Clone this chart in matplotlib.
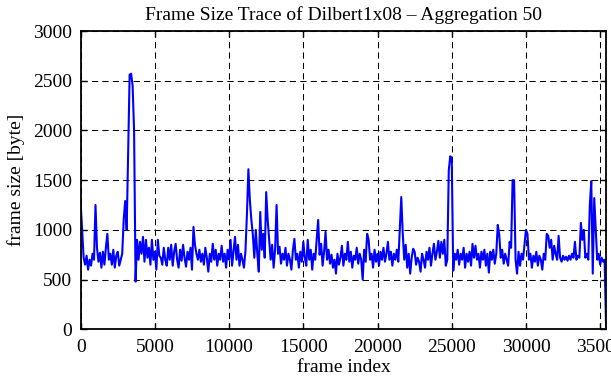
import numpy as np
import matplotlib.pyplot as plt

# Frame size trace (aggregation 50), every 100 frames
frame_step = 100
frame_size = [
    1260, 1000, 720, 650, 740, 600, 700, 640, 760, 700,
    1250, 820, 680, 770, 620, 780, 650, 820, 960, 700,
    760, 650, 800, 620, 740, 780, 640, 700, 760, 1100,
    1290, 1000, 1760, 2560, 2570, 2450, 2000, 480, 900, 700,
    880, 760, 930, 680, 900, 720, 820, 650, 900, 700,
    780, 600, 900, 740, 720, 650, 820, 700, 640, 820,
    700, 850, 640, 780, 860, 700, 620, 800, 690, 850,
    720, 630, 780, 700, 820, 600, 1030, 850, 760, 700,
    800, 680, 760, 650, 820, 720, 580, 760, 680, 860,
    700, 800, 640, 760, 700, 840, 680, 760, 620, 800,
    700, 900, 640, 780, 930, 700, 850, 640, 760, 700,
    620, 780, 1150, 1610, 1300, 1100, 950, 720, 1000, 760,
    580, 1180, 800, 960, 720, 1380, 1100, 900, 700, 850,
    620, 800, 1250, 760, 830, 660, 760, 700, 820, 640,
    760, 700, 600, 800, 910, 700, 760, 620, 780, 680,
    880, 720, 640, 900, 700, 800, 600, 760, 700, 900,
    1100, 750, 860, 640, 780, 980, 700, 800, 660, 750,
    620, 700, 560, 760, 650, 720, 840, 640, 760, 700,
    880, 680, 780, 620, 740, 700, 820, 660, 760, 700,
    500, 800, 680, 960, 900, 700, 760, 620, 800, 680,
    760, 640, 780, 700, 820, 680, 760, 880, 700, 780,
    640, 760, 700, 800, 680, 1000, 1330, 960, 700, 850,
    620, 760, 560, 720, 810, 780, 650, 720, 680, 580,
    760, 700, 620, 780, 700, 820, 640, 760, 860, 700,
    780, 890, 720, 880, 760, 900, 640, 700, 1600, 1740,
    1720, 590, 760, 700, 800, 650, 760, 700, 820, 620,
    760, 680, 780, 640, 860, 720, 840, 700, 760, 620,
    780, 700, 800, 640, 760, 570, 780, 700, 800, 660,
    760, 1050, 950, 720, 800, 660, 760, 700, 640, 880,
    820, 1500, 1500, 700, 560, 780, 640, 760, 700, 850,
    1000, 960, 700, 760, 620, 740, 680, 780, 640, 740,
    700, 600, 760, 700, 960, 940, 820, 900, 700, 840,
    760, 700, 940, 720, 680, 740, 700, 730, 690, 740,
    700, 760, 720, 880, 700, 740, 720, 1070, 900, 1000,
    720, 760, 700, 1240, 1490, 560, 1320, 1000, 700, 760,
    650, 720, 680, 700, 0,
]
frame_index = np.arange(len(frame_size)) * frame_step

x_ticks = np.arange(0, 35001, 5000)
y_ticks = np.arange(0, 3001, 500)

plt.rcParams['font.family'] = ['Liberation Serif', 'DejaVu Serif']
plt.rcParams['font.size'] = 14

fig = plt.figure(figsize=(6.11, 3.80), dpi=100)
ax = fig.add_axes([0.132, 0.1334, 0.860, 0.7850])

ax.plot(frame_index, frame_size, color='#0000ff', linewidth=1.5)

ax.set_xlim(0, frame_index[-1])
ax.set_ylim(0, 3000)
ax.set_xticks(x_ticks)
ax.set_yticks(y_ticks)

ax.grid(True, color='black', linestyle=(0, (6, 4)), linewidth=0.75)
ax.tick_params(direction='in', top=True, right=True, length=4, width=1,
               labelsize=14)
ax.tick_params(axis='x', pad=7)
ax.tick_params(axis='y', pad=6)
for s in ax.spines.values():
    s.set_linewidth(1.3)

ax.set_title('Frame Size Trace of Dilbert1x08 \u2013 Aggregation 50', fontsize=14, pad=8)
ax.set_xlabel('frame index', labelpad=2)
ax.set_ylabel('frame size [byte]', labelpad=6)

fig.savefig('out.png', dpi=100)
